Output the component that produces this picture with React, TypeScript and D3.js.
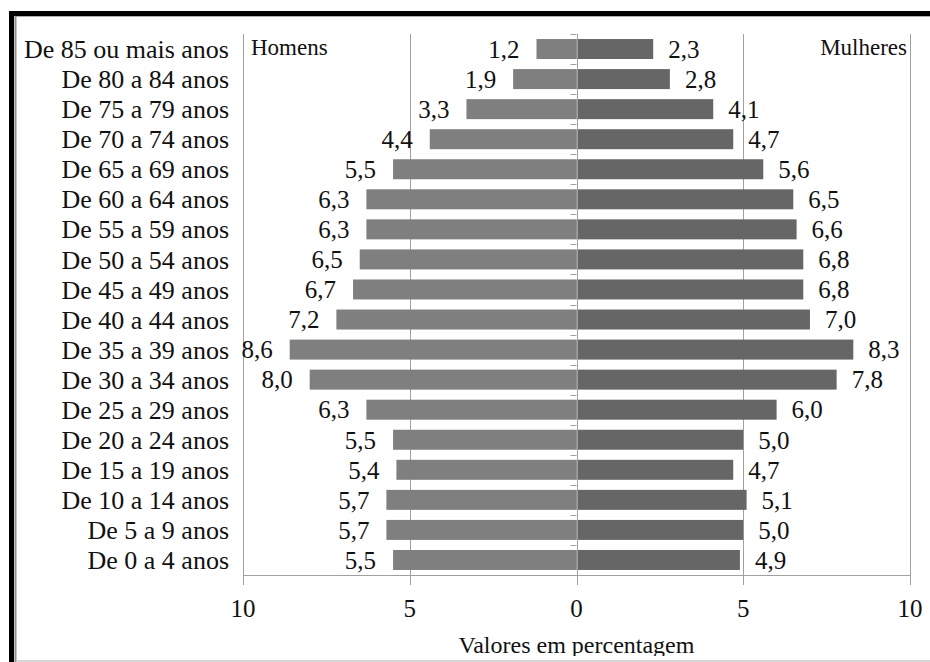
import React from "react";
import * as d3 from "d3";

const categories = [
  "De 85 ou mais anos",
  "De 80 a 84 anos",
  "De 75 a 79 anos",
  "De 70 a 74 anos",
  "De 65 a 69 anos",
  "De 60 a 64 anos",
  "De 55 a 59 anos",
  "De 50 a 54 anos",
  "De 45 a 49 anos",
  "De 40 a 44 anos",
  "De 35 a 39 anos",
  "De 30 a 34 anos",
  "De 25 a 29 anos",
  "De 20 a 24 anos",
  "De 15 a 19 anos",
  "De 10 a 14 anos",
  "De 5 a 9 anos",
  "De 0 a 4 anos",
];
const homens = [1.2, 1.9, 3.3, 4.4, 5.5, 6.3, 6.3, 6.5, 6.7, 7.2, 8.6, 8.0, 6.3, 5.5, 5.4, 5.7, 5.7, 5.5];
const mulheres = [2.3, 2.8, 4.1, 4.7, 5.6, 6.5, 6.6, 6.8, 6.8, 7.0, 8.3, 7.8, 6.0, 5.0, 4.7, 5.1, 5.0, 4.9];
const xTicks = [-10, -5, 0, 5, 10];
const seriesNames = ["Homens", "Mulheres"];
const axisTitle = "Valores em percentagem";

const W = 930;
const H = 662;
const FONT = "Liberation Serif, serif";
const GRID = "#a0a0a0";

export default function App() {
  const x = d3.scaleLinear().domain([-10, 10]).range([243, 910]);
  const y = d3.scaleBand<string>().domain(categories).range([34, 575]).paddingInner(0.335).paddingOuter(0.1675);
  const band = y.step();
  const top = 34;
  const bottom = 575;
  const fmt = (v: number) => v.toFixed(1).replace(".", ",");
  const x0 = x(0);
  const txt = { fontFamily: FONT };

  return (
    <svg width={W} height={H} style={{ position: "absolute", left: 0, top: 0, background: "#fff", fontFamily: FONT }}>
      <defs>
        <clipPath id="clipBottom">
          <rect x={0} y={0} width={W} height={656} />
        </clipPath>
      </defs>
      {/* frame */}
      <rect x={9} y={11} width={W} height={5} fill="#000" />
      <rect x={9} y={11} width={5} height={H} fill="#000" />
      <line x1={15} x2={W} y1={16.5} y2={16.5} stroke="#b0b0b0" strokeWidth={1} />
      <line x1={15.5} x2={15.5} y1={16} y2={H} stroke="#909090" strokeWidth={2} />
      <line x1={16} x2={W} y1={661} y2={661} stroke="#c8c8c8" strokeWidth={1.5} />

      {/* vertical gridlines */}
      {xTicks.map((t) => (
        <line key={"g" + t} x1={Math.round(x(t)) + 0.5} x2={Math.round(x(t)) + 0.5} y1={top} y2={bottom} stroke={GRID} strokeWidth={1} />
      ))}

      {/* bars */}
      {categories.map((c, i) => (
        <g key={c}>
          <rect x={x(-homens[i])} y={y(c)!} width={x0 - x(-homens[i])} height={y.bandwidth()} fill="#7f7f7f" />
          <rect x={x0} y={y(c)!} width={x(mulheres[i]) - x0} height={y.bandwidth()} fill="#666666" />
        </g>
      ))}

      {/* zero axis */}
      <line x1={Math.round(x0) + 0.5} x2={Math.round(x0) + 0.5} y1={top} y2={bottom} stroke={GRID} strokeWidth={1} />
      {d3.range(categories.length + 1).map((k) => (
        <line key={"ct" + k} x1={x0 - 6} x2={x0} y1={Math.round(top + k * band) + 0.5} y2={Math.round(top + k * band) + 0.5} stroke={GRID} strokeWidth={1} />
      ))}

      {/* bottom axis */}
      <line x1={x(-10)} x2={x(10) + 1} y1={bottom + 0.5} y2={bottom + 0.5} stroke={GRID} strokeWidth={1} />
      {xTicks.map((t) => (
        <g key={"t" + t}>
          <line x1={Math.round(x(t)) + 0.5} x2={Math.round(x(t)) + 0.5} y1={bottom} y2={bottom + 10} stroke={GRID} strokeWidth={1} />
          <text x={x(t)} y={617} textAnchor="middle" fontSize={25} fill="#111" style={txt}>
            {Math.abs(t)}
          </text>
        </g>
      ))}

      {/* category labels */}
      {categories.map((c) => (
        <text key={"cl" + c} x={229} y={y(c)! + y.bandwidth() / 2} dy="0.35em" textAnchor="end" fontSize={26} fill="#111" style={txt}>
          {c}
        </text>
      ))}

      {/* value labels */}
      {categories.map((c, i) => (
        <g key={"vl" + c}>
          <text x={x(-homens[i]) - 17} y={y(c)! + y.bandwidth() / 2} dy="0.35em" textAnchor="end" fontSize={25} fill="#111" style={txt}>
            {fmt(homens[i])}
          </text>
          <text x={x(mulheres[i]) + 15} y={y(c)! + y.bandwidth() / 2} dy="0.35em" textAnchor="start" fontSize={25} fill="#111" style={txt}>
            {fmt(mulheres[i])}
          </text>
        </g>
      ))}

      {/* series names */}
      <text x={251} y={55} fontSize={23} fill="#111" style={txt}>{seriesNames[0]}</text>
      <text x={907} y={55} textAnchor="end" fontSize={23} fill="#111" style={txt}>{seriesNames[1]}</text>

      {/* axis title */}
      <text x={x0} y={653} textAnchor="middle" fontSize={24} fill="#111" clipPath="url(#clipBottom)" style={txt}>
        {axisTitle}
      </text>
    </svg>
  );
}
